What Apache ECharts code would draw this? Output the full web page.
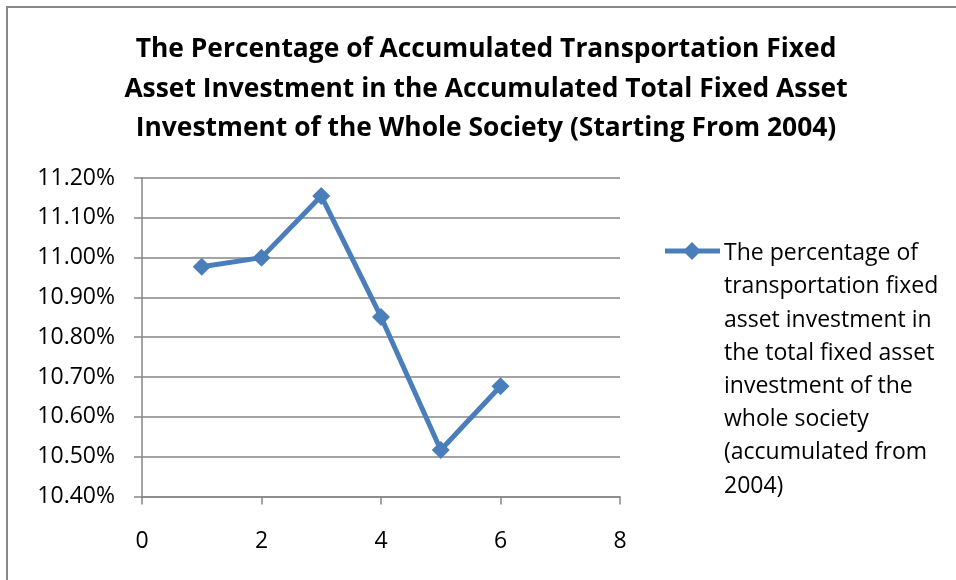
<!DOCTYPE html>
<html>
<head>
<meta charset="utf-8">
<script src="https://cdn.jsdelivr.net/npm/echarts@6/dist/echarts.min.js"></script>
<style>html,body{margin:0;padding:0;background:#fff}#c{width:956px;height:580px}</style>
</head>
<body>
<div id="c"></div>
<script>
const titleText = 'The Percentage of Accumulated Transportation Fixed\nAsset Investment in the Accumulated Total Fixed Asset\nInvestment of the Whole Society (Starting From 2004)';
const seriesName = 'The percentage of\ntransportation fixed\nasset investment in\nthe total fixed asset\ninvestment of the\nwhole society\n(accumulated from\n2004)';
const xValues = [1, 2, 3, 4, 5, 6];
const yValues = [10.977, 11.000, 11.155, 10.851, 10.517, 10.677];
const yMin = 10.4, yMax = 11.2, yStep = 0.1;
const xMin = 0, xMax = 8, xStep = 2;

const FONT = 'Open Sans';
const BLUE = '#4a7ebb';
const GRAY = '#868686';

const chart = echarts.init(document.getElementById('c'), null, {renderer: 'canvas'});
chart.setOption({
  animation: false,
  backgroundColor: '#fff',
  title: {
    text: titleText,
    left: 481, top: 25, textAlign: 'center',
    textStyle: {fontFamily: FONT, fontWeight: 'bold', fontSize: 26.4, lineHeight: 39.5, color: '#000'}
  },
  grid: {left: 142, right: 336, top: 178, bottom: 83.5, containLabel: false},
  xAxis: {
    type: 'value', min: xMin, max: xMax, interval: xStep,
    axisLine: {show: true, lineStyle: {color: GRAY, width: 1.5}},
    axisTick: {show: true, length: 8, lineStyle: {color: GRAY, width: 1.5}},
    splitLine: {show: false},
    axisLabel: {margin: 33, fontFamily: FONT, fontSize: 23, color: '#000'}
  },
  yAxis: {
    type: 'value', min: yMin, max: yMax, interval: yStep,
    axisLine: {show: true, lineStyle: {color: GRAY, width: 1.5}},
    axisTick: {show: true, length: 8, lineStyle: {color: GRAY, width: 1.5}},
    splitLine: {show: true, lineStyle: {color: GRAY, width: 1.5}},
    axisLabel: {margin: 27, fontFamily: FONT, fontSize: 23, color: '#000',
      formatter: v => v.toFixed(2) + '%'}
  },
  legend: {show: false},
  series: [{
    name: seriesName,
    type: 'line',
    data: xValues.map((x, i) => [x, yValues[i]]),
    symbol: 'diamond', symbolSize: 18,
    lineStyle: {color: BLUE, width: 5},
    itemStyle: {color: BLUE}
  }],
  graphic: [
    {type: 'rect', shape: {x: 7, y: 7, width: 1000, height: 700}, style: {fill: null, stroke: '#888', lineWidth: 2}, silent: true},
    {type: 'line', shape: {x1: 665, y1: 251, x2: 720, y2: 251}, style: {stroke: BLUE, lineWidth: 5}},
    {type: 'polygon', shape: {points: [[692, 242], [701, 251], [692, 260], [683, 251]]}, style: {fill: BLUE}},
    {type: 'text', left: 724, top: 237, style: {text: seriesName, font: '23px "Open Sans"', lineHeight: 33.2, fill: '#000'}}
  ]
});
</script>
</body>
</html>
